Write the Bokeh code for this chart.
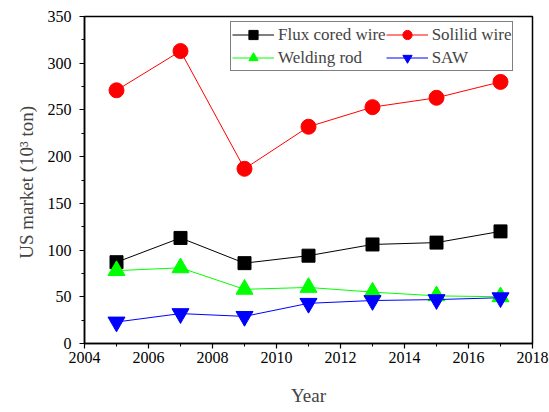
from bokeh.plotting import figure
from bokeh.models import SingleIntervalTicker, Range1d, Legend, LegendItem
from bokeh.embed import file_html
from bokeh.resources import INLINE

years = [2005, 2007, 2009, 2011, 2013, 2015, 2017]
flux_cored = [87, 113, 86, 94, 106, 108, 120]
solid_wire = [271, 313, 187, 232, 253, 263, 280]
welding_rod = [78, 81, 58, 60, 55, 51, 50]
saw = [23, 32, 29, 43, 46, 47, 49]

FONT = "Liberation Serif"

p = figure(width=549, height=412, output_backend="svg", toolbar_location=None,
           x_range=Range1d(2004, 2018), y_range=Range1d(0, 350),
           min_border_left=84, min_border_right=17, min_border_top=16, min_border_bottom=69)
p.xgrid.visible = False
p.ygrid.visible = False
p.outline_line_color = "black"
p.outline_line_width = 1.5
p.background_fill_color = "white"
p.border_fill_color = "white"

series = [
    ("Flux cored wire", flux_cored, "black", "square", 13),
    ("Solilid wire", solid_wire, "#ff0000", "circle", 15),
    ("Welding rod", welding_rod, "#00ff00", "triangle", 17),
    ("SAW", saw, "#0000ff", "inverted_triangle", 17),
]
items = {}
for name, vals, col, mk, sz in series:
    l = p.line(years, vals, line_color=col, line_width=1)
    s = p.scatter(years, vals, marker=mk, size=sz, fill_color=col, line_color=col)
    items[name] = LegendItem(label=name, renderers=[l, s])

legend = Legend(items=[items["Flux cored wire"], items["Welding rod"],
                       items["Solilid wire"], items["SAW"]],
                ncols=2, location=(146, 272))
legend.label_text_font = FONT
legend.label_text_font_style = "normal"
legend.label_text_font_size = "17px"
legend.border_line_color = "black"
legend.border_line_width = 1.2
legend.glyph_width = 42
legend.glyph_height = 23
legend.label_height = 18
legend.label_standoff = 4
legend.spacing = 0
legend.padding = 1
legend.margin = 0
legend.background_fill_alpha = 1
p.add_layout(legend)

for ax in (p.xaxis[0], p.yaxis[0]):
    ax.major_label_text_font = FONT
    ax.major_label_text_font_style = "normal"
    ax.major_label_text_font_size = "16px"
    ax.major_label_text_color = "black"
    ax.major_label_standoff = 3
    ax.axis_label_text_font = FONT
    ax.axis_label_text_font_size = "19px"
    ax.axis_label_text_font_style = "normal"
    ax.axis_line_width = 1.5
    ax.major_tick_in = 0
    ax.major_tick_out = 5
    ax.minor_tick_in = 0
    ax.minor_tick_out = 3
    ax.major_tick_line_width = 1.2
    ax.minor_tick_line_width = 1

p.yaxis[0].major_label_standoff = 8
p.xaxis[0].ticker = SingleIntervalTicker(interval=2, num_minor_ticks=2)
p.yaxis[0].ticker = SingleIntervalTicker(interval=50, num_minor_ticks=2)
p.xaxis[0].axis_label = "Year"
p.yaxis[0].axis_label = "US market (10³  ton)"
p.xaxis[0].axis_label_standoff = 19
p.yaxis[0].axis_label_standoff = 8

open("out.html", "w").write(file_html(p, INLINE))
